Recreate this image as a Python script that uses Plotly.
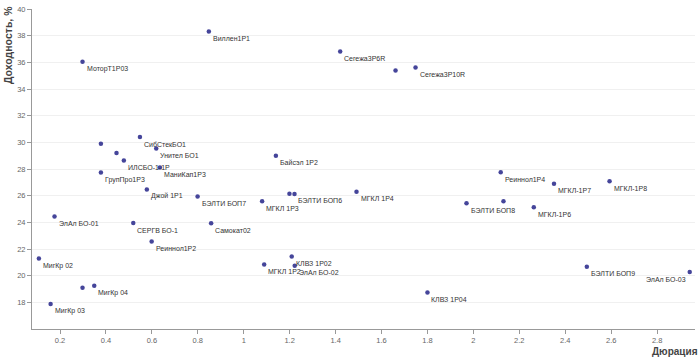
import plotly.graph_objects as go

# Labelled bonds
names = ["Виллен1Р1", "МоторТ1Р03", "Сегежа3Р6R", "Сегежа3Р10R", "СибСтекБО1", "Унител БО1",
         "ИЛСБО-1-1Р", "МаниКап1Р3", "ГрупПро1Р3", "Байсэл 1Р2", "Джой 1Р1", "БЭЛТИ БОП7",
         "МГКЛ 1Р3", "БЭЛТИ БОП6", "МГКЛ 1Р4", "Реиннол1Р4", "МГКЛ-1Р7", "МГКЛ-1Р8",
         "БЭЛТИ БОП8", "МГКЛ-1Р6", "ЭлАл БО-01", "СЕРГВ БО-1", "Самокат02", "Реиннол1Р2",
         "МигКр 02", "МигКр 04", "МигКр 03", "КЛВЗ 1Р02", "МГКЛ 1Р2", "ЭлАл БО-02",
         "КЛВЗ 1Р04", "БЭЛТИ БОП9", "ЭлАл БО-03"]
duration = [0.848, 0.298, 1.420, 1.748, 0.548, 0.619,
            0.478, 0.635, 0.378, 1.140, 0.578, 0.799,
            1.080, 1.221, 1.491, 2.119, 2.351, 2.593,
            1.970, 2.263, 0.176, 0.519, 0.858, 0.599,
            0.108, 0.349, 0.159, 1.209, 1.089, 1.222,
            1.800, 2.494, 2.942]
yield_pct = [38.32, 36.05, 36.81, 35.61, 30.40, 29.53,
             28.64, 28.12, 27.73, 28.99, 26.47, 25.93,
             25.58, 26.13, 26.30, 27.75, 26.89, 27.09,
             25.43, 25.13, 24.44, 23.95, 23.93, 22.57,
             21.28, 19.24, 17.87, 21.43, 20.84, 20.74,
             18.74, 20.67, 20.27]

# Unlabelled bonds
extra_duration = [0.378, 0.446, 1.199, 2.131, 0.298, 1.661]
extra_yield = [29.90, 29.20, 26.15, 25.58, 19.09, 35.39]

# Labels placed on the left of their point
left_labels = ["ЭлАл БО-03"]

x_ticks = [0.2, 0.4, 0.6, 0.8, 1, 1.2, 1.4, 1.6, 1.8, 2, 2.2, 2.4, 2.6, 2.8]
y_ticks = [18, 20, 22, 24, 26, 28, 30, 32, 34, 36, 38, 40]

FONT = "Liberation Sans, Arial, sans-serif"
DOT = "#45459a"

fig = go.Figure()
fig.add_trace(go.Scatter(
    x=duration + extra_duration, y=yield_pct + extra_yield,
    mode="markers", marker=dict(size=4.5, color=DOT),
    hoverinfo="skip", showlegend=False))

annotations = []
for n, xv, yv in zip(names, duration, yield_pct):
    left = n in left_labels
    annotations.append(dict(x=xv, y=yv, xref="x", yref="y", text=n, showarrow=False,
                            xanchor="right" if left else "left", yanchor="middle",
                            xshift=-2 if left else 2, yshift=-7,
                            font=dict(family=FONT, size=7, color="#333")))

annotations.append(dict(x=0, y=1, xref="paper", yref="paper", text="<b>Доходность, %</b>",
                        textangle=-90, showarrow=False, xanchor="center", yanchor="top",
                        xshift=-24, yshift=5, font=dict(family=FONT, size=10.5, color="#444")))
annotations.append(dict(x=1, y=0, xref="paper", yref="paper", text="<b>Дюрация</b>",
                        showarrow=False, xanchor="right", yanchor="middle",
                        xshift=5, yshift=-22, font=dict(family=FONT, size=10, color="#444")))

fig.update_layout(
    width=700, height=357,
    margin=dict(l=32, r=5, t=5, b=28),
    paper_bgcolor="white", plot_bgcolor="white",
    annotations=annotations,
    xaxis=dict(range=[0.078, 2.965], tickvals=x_ticks, ticktext=[str(v) for v in x_ticks],
               showgrid=False, zeroline=False, showline=True, linecolor="#999", linewidth=1,
               ticks="outside", ticklen=4, tickcolor="#999",
               tickfont=dict(family=FONT, size=7.5, color="#666")),
    yaxis=dict(range=[16, 40], tickvals=y_ticks, showgrid=True, gridcolor="#f0f0f0",
               zeroline=False, showline=True, linecolor="#999", linewidth=1,
               ticks="outside", ticklen=4, tickcolor="#999",
               tickfont=dict(family=FONT, size=7.5, color="#666")),
)

fig.write_html("out.html")
